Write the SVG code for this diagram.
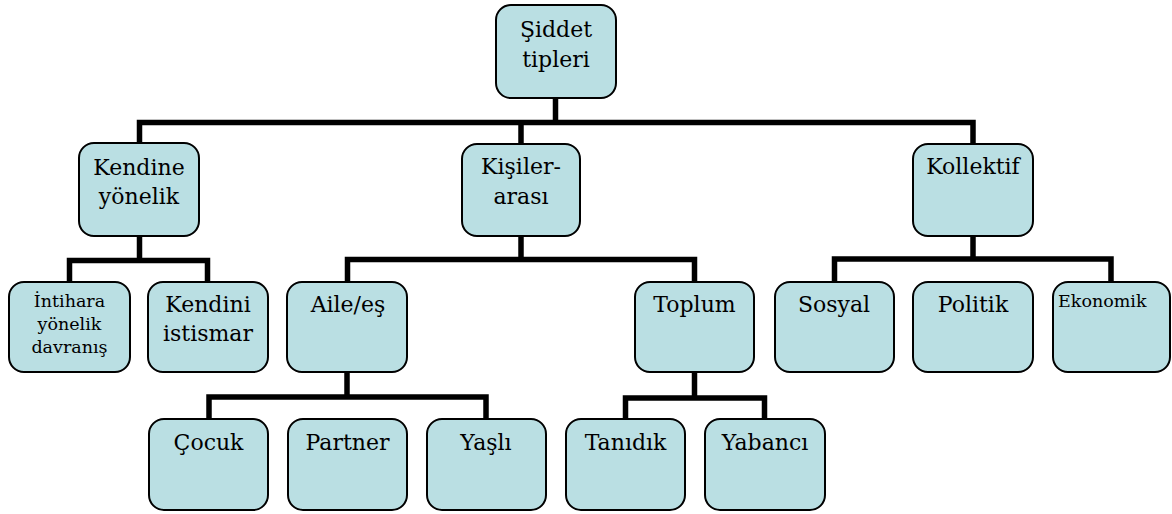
<svg xmlns="http://www.w3.org/2000/svg" width="1172" height="514" viewBox="0 0 1172 514">
<style>
.box{fill:#BADFE3;stroke:#000;stroke-width:2}
.c{fill:none;stroke:#000;stroke-width:5.5;stroke-linejoin:miter}
.t{font-family:'DejaVu Serif','Liberation Serif',serif;fill:#000;font-size:22px;text-anchor:middle}
.s{font-size:17.5px}
</style>
<rect width="1172" height="514" fill="#fff"/>
<g id="connectors" class="c">
<path d="M555.5 98 V122.5"/>
<path d="M139.5 143 V122.5 H973 V144"/>
<path d="M521 122.5 V144"/>
<path d="M139.5 236 V260.5"/>
<path d="M69.5 282 V260.5 H207.5 V282"/>
<path d="M521 236 V259.5"/>
<path d="M347.5 282 V259.5 H694.5 V282"/>
<path d="M973 236 V259"/>
<path d="M834.5 282 V259 H1111 V282"/>
<path d="M347 372 V397"/>
<path d="M209 419 V397 H486 V419"/>
<path d="M694.5 372 V398"/>
<path d="M625.5 419 V398 H764.5 V419"/>
</g>
<g class="t">
<g id="n-root"><rect class="box" x="496" y="5" width="120" height="93" rx="15"/><text x="556" y="37">Şiddet</text><text x="556" y="67">tipleri</text></g>
<g id="n-kendine"><rect class="box" x="79" y="143" width="120" height="93" rx="15"/><text x="139" y="175">Kendine</text><text x="139" y="204">yönelik</text></g>
<g id="n-kisiler"><rect class="box" x="462" y="144" width="118" height="92" rx="15"/><text x="521" y="174">Kişiler-</text><text x="521" y="204">arası</text></g>
<g id="n-kollektif"><rect class="box" x="913" y="144" width="120" height="92" rx="15"/><text x="973" y="174">Kollektif</text></g>
<g id="n-intihara"><rect class="box" x="9" y="282" width="121" height="90" rx="15"/><text class="s" x="69.5" y="307">İntihara</text><text class="s" x="69.5" y="330">yönelik</text><text class="s" x="69.5" y="353">davranış</text></g>
<g id="n-kendini"><rect class="box" x="148" y="282" width="120" height="90" rx="15"/><text x="208" y="312">Kendini</text><text x="208" y="341">istismar</text></g>
<g id="n-aile"><rect class="box" x="287" y="282" width="120" height="90" rx="15"/><text x="348" y="312">Aile/eş</text></g>
<g id="n-toplum"><rect class="box" x="635" y="282" width="119" height="90" rx="15"/><text x="694.5" y="312">Toplum</text></g>
<g id="n-sosyal"><rect class="box" x="775" y="282" width="119" height="90" rx="15"/><text x="834" y="312">Sosyal</text></g>
<g id="n-politik"><rect class="box" x="913" y="282" width="120" height="90" rx="15"/><text x="973" y="312">Politik</text></g>
<g id="n-ekonomik"><rect class="box" x="1053" y="282" width="117" height="90" rx="15"/><text class="s" x="1058" y="307" text-anchor="start" style="text-anchor:start">Ekonomik</text></g>
<g id="n-cocuk"><rect class="box" x="149" y="419" width="119" height="91" rx="15"/><text x="208.5" y="450">Çocuk</text></g>
<g id="n-partner"><rect class="box" x="288" y="419" width="119" height="91" rx="15"/><text x="347.5" y="450">Partner</text></g>
<g id="n-yasli"><rect class="box" x="427" y="419" width="119" height="91" rx="15"/><text x="486" y="450">Yaşlı</text></g>
<g id="n-tanidik"><rect class="box" x="566" y="419" width="119" height="91" rx="15"/><text x="625.5" y="450">Tanıdık</text></g>
<g id="n-yabanci"><rect class="box" x="705" y="419" width="120" height="91" rx="15"/><text x="765" y="450">Yabancı</text></g>
</g>
</svg>
